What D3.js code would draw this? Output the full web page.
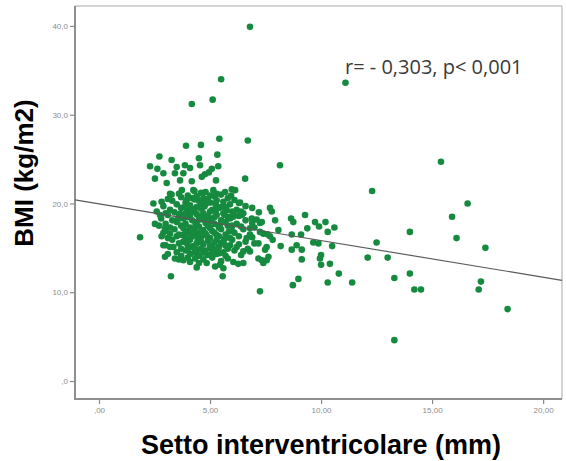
<!DOCTYPE html>
<html>
<head>
<meta charset="utf-8">
<script src="https://cdn.jsdelivr.net/npm/d3@7"></script>
<style>
  html, body { margin: 0; padding: 0; background: #fff; }
  svg { display: block; }
</style>
</head>
<body>
<svg id="chart" width="566" height="461"></svg>
<script>
// Septum thickness (mm) vs BMI (kg/m2), one [mm, bmi] pair per patient.
const sparsePoints = [
  [6.8, 39.9], [5.5, 34.0], [5.12, 31.7], [4.18, 31.2], [11.1, 33.6],
  [5.42, 27.3], [6.70, 27.1], [3.92, 26.5], [4.59, 26.6], [5.33, 25.5],
  [2.72, 25.3], [3.27, 24.9], [4.50, 25.1], [2.30, 24.2], [2.63, 23.9],
  [3.50, 24.1], [3.87, 24.3], [4.10, 24.0], [4.55, 24.3], [5.37, 24.2],
  [5.08, 23.9], [2.90, 23.4], [3.42, 23.4], [3.80, 23.4], [4.77, 23.3],
  [2.52, 22.8], [3.05, 22.3], [3.65, 22.6], [4.18, 22.5], [4.63, 23.0],
  [4.95, 23.5], [5.27, 22.6], [6.58, 22.8], [8.15, 24.3], [3.73, 21.5],
  [4.25, 21.5], [3.20, 21.1], [5.15, 21.5], [5.30, 21.1], [5.68, 21.3],
  [5.98, 21.6], [6.13, 21.5], [6.35, 20.1], [2.45, 20.0], [2.82, 20.2],
  [3.27, 21.0], [3.95, 20.4], [4.40, 20.8], [4.70, 20.6], [4.85, 20.2],
  [5.23, 20.0], [5.53, 19.6], [7.70, 19.5], [7.78, 19.1], [7.93, 18.1],
  [7.25, 17.8], [6.88, 18.3], [6.43, 18.7], [6.05, 18.5], [7.25, 16.8],
  [7.70, 16.3], [7.18, 15.5], [7.55, 15.1], [7.63, 14.0], [7.18, 13.8],
  [6.50, 13.3], [6.05, 13.4], [5.45, 13.1], [5.23, 12.9], [4.85, 13.3],
  [5.57, 11.8], [3.24, 11.8], [1.85, 16.2], [2.52, 17.7], [2.75, 18.7],
  [2.97, 17.2], [2.82, 16.3], [2.90, 15.3], [2.97, 14.0], [3.42, 13.8],
  [3.80, 13.6], [3.35, 15.1], [3.20, 16.6], [4.32, 13.8], [4.40, 14.8],
  [6.80, 14.6], [6.50, 14.6], [6.65, 16.1], [6.80, 17.2], [6.27, 13.2],
  [7.40, 13.3]
];

const rightPoints = [
  [15.4, 24.7], [12.3, 21.4], [16.6, 20.0], [15.9, 18.5], [16.1, 16.1],
  [14.0, 16.8], [17.4, 15.0], [12.5, 15.6], [12.1, 13.9], [13.0, 13.9],
  [13.3, 11.6], [14.0, 12.1], [14.2, 10.3], [14.5, 10.3], [17.2, 11.2],
  [17.1, 10.3], [18.4, 8.1], [13.3, 4.6], [7.25, 10.1], [10.8, 12.1],
  [11.4, 11.1], [10.3, 11.1], [8.73, 10.8], [8.98, 11.5], [9.13, 13.7],
  [10.0, 13.1], [9.95, 13.8], [10.4, 13.2], [10.0, 14.2], [10.5, 15.2],
  [9.65, 15.6], [9.88, 15.5], [8.68, 14.8], [8.90, 15.3], [9.13, 14.8],
  [8.18, 15.2], [7.82, 15.9], [7.60, 16.5], [8.68, 16.5], [9.10, 16.5],
  [9.38, 17.2], [10.3, 16.8], [10.6, 17.3], [10.2, 17.9], [9.73, 17.9],
  [9.91, 17.4], [9.28, 18.7], [8.75, 17.9], [8.65, 18.3], [8.08, 17.0],
  [7.33, 17.9], [7.33, 13.6], [7.48, 14.8], [7.55, 13.6]
];

const clusterPoints = [
  [3.6, 21.1], [4.0, 20.9], [4.6, 21.2], [5.0, 20.9], [5.5, 21.0],
  [3.1, 20.5], [3.7, 20.7], [4.2, 20.6], [4.9, 20.5], [5.2, 20.8], [5.8, 20.6],
  [3.3, 20.3], [3.9, 20.1], [4.5, 20.3], [5.0, 20.1], [5.6, 20.2], [6.1, 20.4],
  [2.9, 19.7], [3.5, 19.9], [4.1, 19.8], [4.4, 19.6], [4.8, 19.9], [5.3, 19.7], [5.9, 19.9], [6.6, 19.7],
  [3.2, 19.3], [3.7, 19.5], [4.0, 19.2], [4.6, 19.4], [5.1, 19.3], [5.4, 19.5], [6.2, 19.3], [6.9, 19.5],
  [2.6, 19.1], [3.0, 18.9], [3.4, 19.0], [3.9, 18.9], [4.3, 19.1], [4.7, 18.9], [5.0, 19.1], [5.6, 18.9], [6.0, 19.1], [6.5, 18.9], [7.2, 19.0],
  [3.1, 18.7], [3.6, 18.5], [4.1, 18.7], [4.5, 18.5], [4.9, 18.6], [5.3, 18.7], [5.8, 18.5], [6.3, 18.6],
  [2.8, 18.3], [3.3, 18.1], [3.8, 18.3], [4.2, 18.1], [4.6, 18.2], [5.1, 18.3], [5.5, 18.1], [5.9, 18.3], [6.6, 18.1], [7.1, 18.2],
  [3.0, 17.7], [3.5, 17.9], [3.9, 17.7], [4.4, 17.9], [4.8, 17.8], [5.2, 17.7], [5.7, 17.9], [6.2, 17.7], [6.9, 17.8],
  [2.7, 17.5], [3.2, 17.3], [3.7, 17.5], [4.1, 17.3], [4.5, 17.4], [4.9, 17.5], [5.4, 17.3], [5.8, 17.5], [6.4, 17.4], [7.0, 17.3],
  [3.0, 16.9], [3.4, 17.1], [3.9, 16.9], [4.3, 17.1], [4.7, 17.0], [5.1, 16.9], [5.5, 17.1], [6.0, 16.9], [6.5, 17.1],
  [2.9, 16.7], [3.6, 16.5], [4.0, 16.7], [4.4, 16.5], [4.8, 16.6], [5.2, 16.7], [5.7, 16.5], [6.1, 16.7], [6.8, 16.5], [7.4, 16.6],
  [3.1, 16.1], [3.5, 16.3], [3.9, 16.1], [4.2, 16.3], [4.6, 16.2], [5.0, 16.1], [5.4, 16.3], [5.9, 16.1], [6.3, 16.3], [6.9, 16.2],
  [3.3, 15.9], [3.8, 15.7], [4.1, 15.9], [4.5, 15.7], [4.9, 15.8], [5.3, 15.9], [5.6, 15.7], [6.0, 15.9], [6.6, 15.7],
  [3.0, 15.3], [3.6, 15.5], [4.0, 15.3], [4.4, 15.5], [4.7, 15.4], [5.1, 15.3], [5.5, 15.5], [5.9, 15.3], [6.3, 15.4], [7.0, 15.5],
  [3.2, 15.1], [3.7, 14.9], [4.2, 15.1], [4.6, 14.9], [5.0, 15.0], [5.4, 15.1], [5.8, 14.9], [6.2, 15.1], [6.7, 14.9],
  [3.5, 14.5], [3.9, 14.7], [4.3, 14.5], [4.8, 14.7], [5.2, 14.6], [5.6, 14.5], [6.1, 14.7],
  [3.1, 14.3], [3.7, 14.1], [4.1, 14.3], [4.5, 14.1], [4.9, 14.2], [5.3, 14.3], [5.7, 14.1], [6.4, 14.2],
  [3.6, 13.7], [4.0, 13.9], [4.7, 13.7], [5.1, 13.9], [5.8, 13.8],
  [4.1, 13.4], [4.5, 13.3], [5.5, 13.5],
  [4.4, 12.8], [5.6, 12.7]
];

// Patients packed into the core of the cluster
const corePoints = [
  [3.85, 19.6], [4.25, 19.35], [4.75, 19.65], [5.25, 19.1], [5.75, 19.25],
  [3.65, 18.85], [4.4, 18.8], [4.75, 18.35], [5.2, 18.45], [5.65, 18.7], [6.05, 18.75],
  [3.55, 18.2], [4.0, 18.45], [4.35, 17.6], [4.95, 17.95], [5.45, 17.6], [6.0, 17.5],
  [3.8, 17.2], [4.2, 16.85], [4.55, 16.75], [5.0, 17.25], [5.3, 16.45], [5.85, 16.85],
  [3.75, 16.45], [4.1, 16.0], [4.45, 15.95], [4.85, 16.4], [5.2, 15.6], [5.65, 16.0],
  [3.9, 15.6], [4.25, 15.2], [4.6, 15.65], [5.0, 15.25], [5.3, 14.85], [5.7, 15.25],
  [4.0, 14.85], [4.4, 14.35], [4.7, 14.45], [5.1, 14.5], [5.45, 14.4],
  [4.6, 20.0], [5.3, 20.35], [4.3, 20.45], [5.7, 19.6], [6.4, 19.1],
  [6.3, 20.05], [5.95, 20.9], [4.3, 21.4], [4.8, 21.3]
];

// Linear fit: BMI = intercept + slope * septum
const fitIntercept = 19.95;
const fitSlope = -0.413;

const xTicks = [0, 5, 10, 15, 20];
const xTickLabels = [",00", "5,00", "10,00", "15,00", "20,00"];
const yTicks = [0, 10, 20, 30, 40];
const yTickLabels = [",0", "10,0", "20,0", "30,0", "40,0"];

const annotation = "r= - 0,303, p< 0,001";
const xTitle = "Setto interventricolare (mm)";
const yTitle = "BMI (kg/m2)";

const svg = d3.select("#chart");
const plot = { left: 75, right: 562, top: 6, bottom: 399 };

const x = d3.scaleLinear().domain([-1.08, 20.85]).range([plot.left, plot.right]);
const y = d3.scaleLinear().domain([-2.03, 42.25]).range([plot.bottom, plot.top]);

// Frame
svg.append("line").attr("x1", plot.left).attr("x2", plot.right)
  .attr("y1", plot.top).attr("y2", plot.top)
  .attr("stroke", "#c4c4c4").attr("stroke-width", 1.5);
svg.append("line").attr("x1", plot.right).attr("x2", plot.right)
  .attr("y1", plot.top).attr("y2", plot.bottom)
  .attr("stroke", "#c4c4c4").attr("stroke-width", 1.5);

// Axes
const yAxis = d3.axisLeft(y).tickValues(yTicks).tickSize(5).tickPadding(2)
  .tickFormat((d, i) => yTickLabels[i]);
const xAxis = d3.axisBottom(x).tickValues(xTicks).tickSize(5).tickPadding(3)
  .tickFormat((d, i) => xTickLabels[i]);

const gy = svg.append("g").attr("transform", `translate(${plot.left},0)`).call(yAxis);
const gx = svg.append("g").attr("transform", `translate(0,${plot.bottom})`).call(xAxis);

[gx, gy].forEach(g => {
  g.select(".domain").remove();
  g.selectAll(".tick line").attr("stroke", "#8a8a8a").attr("stroke-width", 1.2);
  g.selectAll(".tick text").attr("fill", "#8c8c8c")
    .style("font-family", "Liberation Sans, Arial, sans-serif").style("font-size", "8px");
});

svg.append("line").attr("x1", plot.left).attr("x2", plot.left)
  .attr("y1", plot.top).attr("y2", plot.bottom + 1)
  .attr("stroke", "#8f8f8f").attr("stroke-width", 2);
svg.append("line").attr("x1", plot.left - 1).attr("x2", plot.right)
  .attr("y1", plot.bottom).attr("y2", plot.bottom)
  .attr("stroke", "#8f8f8f").attr("stroke-width", 2);

// Points
const allPoints = clusterPoints.concat(corePoints, sparsePoints, rightPoints);
svg.append("g").selectAll("circle").data(allPoints).join("circle")
  .attr("cx", d => x(d[0])).attr("cy", d => y(d[1])).attr("r", 3.3)
  .attr("fill", "#168b3f");

// Fit line across the full x range
const [x0, x1] = x.domain();
svg.append("line")
  .attr("x1", x(x0)).attr("y1", y(fitIntercept + fitSlope * x0))
  .attr("x2", x(x1)).attr("y2", y(fitIntercept + fitSlope * x1))
  .attr("stroke", "#5a5a5a").attr("stroke-width", 1.2);

// Annotation
svg.append("text").attr("x", 345).attr("y", 74)
  .attr("fill", "#3a3a3a")
  .style("font-family", "Open Sans, Liberation Sans, sans-serif").style("font-size", "20px")
  .text(annotation);

// Axis titles
svg.append("text").attr("x", 321).attr("y", 454).attr("text-anchor", "middle")
  .attr("fill", "#000").style("font-weight", "bold")
  .style("font-family", "Liberation Sans, Arial, sans-serif").style("font-size", "27px")
  .text(xTitle);
svg.append("text").attr("transform", "translate(33,173) rotate(-90)").attr("text-anchor", "middle")
  .attr("fill", "#000").style("font-weight", "bold")
  .style("font-family", "Liberation Sans, Arial, sans-serif").style("font-size", "26px")
  .text(yTitle);
</script>
</body>
</html>
